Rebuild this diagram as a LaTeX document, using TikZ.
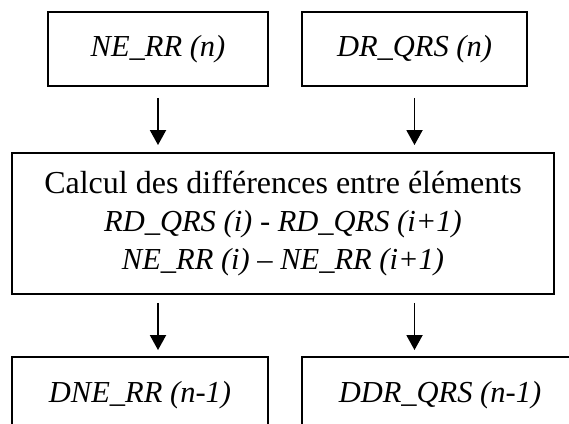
\documentclass[tikz,border=0pt]{standalone}
\usepackage{fontspec}
\setmainfont{Liberation Serif}
\usetikzlibrary{arrows.meta}
\begin{document}
\begin{tikzpicture}[
  box/.style={draw, line width=1.9pt, inner sep=0pt, align=center},
  lab/.style={font=\fontsize{30.5}{38}\selectfont\itshape},
  arr/.style={line width=1.9pt, -{Triangle[length=15pt,width=16pt]}}
]
\useasboundingbox (0pt,0pt) rectangle (569pt,-423pt);
\clip (0pt,0pt) rectangle (569pt,-423pt);
\node[box, lab, minimum width=220pt, minimum height=74pt] (tl) at (158pt,-49pt) {NE\_RR (n)};
\node[box, lab, minimum width=225pt, minimum height=74pt] (tr) at (414.5pt,-49pt) {DR\_QRS (n)};
\node[box, minimum width=542pt, minimum height=141pt, font=\fontsize{32}{38}\selectfont] (mid) at (283pt,-223.5pt)
  {Calcul des différences entre éléments\\
   {\fontsize{30.5}{38}\selectfont\itshape RD\_QRS (i) - RD\_QRS (i+1)}\\
   {\fontsize{30.5}{38}\selectfont\itshape NE\_RR (i) – NE\_RR (i+1)}};
\node[box, lab, minimum width=256pt, minimum height=76pt] (bl) at (140pt,-395pt) {DNE\_RR (n-1)};
\node[box, lab, minimum width=276pt, minimum height=76pt] (br) at (440pt,-395pt) {DDR\_QRS (n-1)};
\draw[arr] ([yshift=-11pt]tl.south) -- ([yshift=7pt]tl.south |- mid.north);
\draw[arr] ([yshift=-11pt]tr.south) -- ([yshift=7pt]tr.south |- mid.north);
\draw[arr] ([yshift=-8pt]tl.south |- mid.south) -- ([yshift=6pt]tl.south |- bl.north);
\draw[arr] ([yshift=-8pt]tr.south |- mid.south) -- ([yshift=6pt]tr.south |- br.north);
\end{tikzpicture}
\end{document}
